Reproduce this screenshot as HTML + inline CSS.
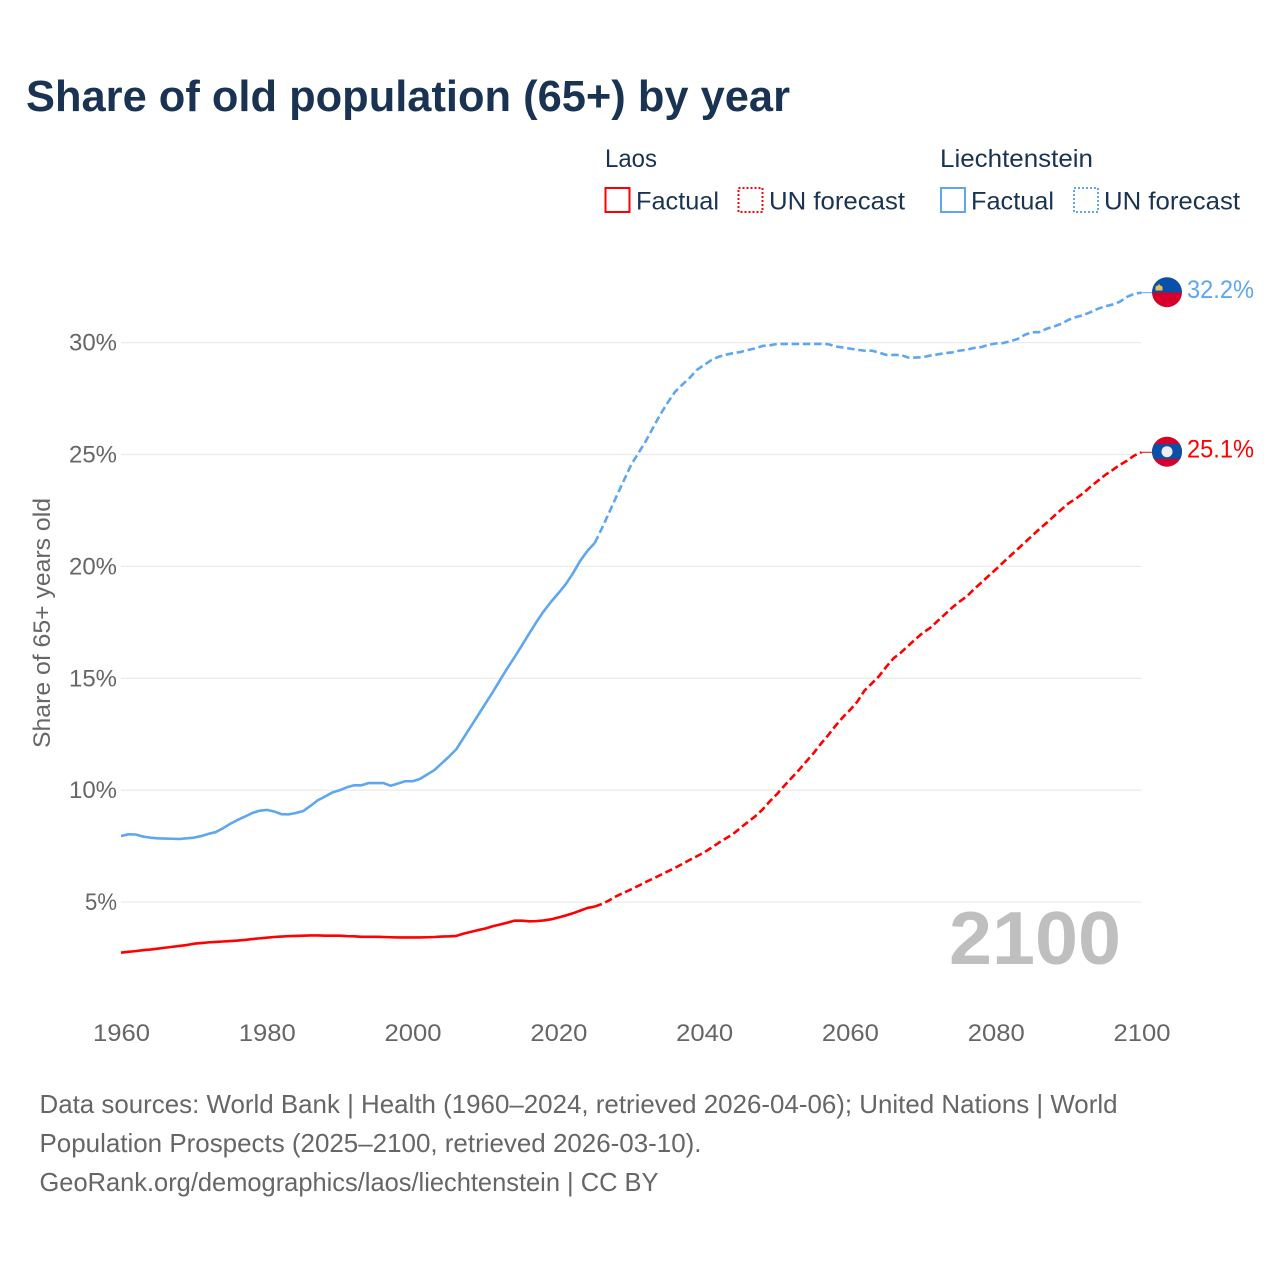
<!DOCTYPE html>
<html lang="en">
<head>
<meta charset="utf-8">
<title>Share of old population (65+) by year</title>
<style>
html,body{margin:0;padding:0;background:#fff;}
svg{display:block;}
text{font-family:"Liberation Sans",sans-serif;}
</style>
</head>
<body>
<svg id="chart" xmlns="http://www.w3.org/2000/svg" width="1280" height="1280" viewBox="0 0 1280 1280">
  <rect x="0" y="0" width="1280" height="1280" fill="#ffffff"/>
  <text x="26" y="111" font-size="44" font-weight="700" fill="#1a3352" textLength="764" lengthAdjust="spacingAndGlyphs">Share of old population (65+) by year</text>

  <g font-size="25" fill="#1a3352">
    <text x="605" y="167" textLength="52" lengthAdjust="spacingAndGlyphs">Laos</text>
    <text x="940" y="167" textLength="153" lengthAdjust="spacingAndGlyphs">Liechtenstein</text>
    <rect x="605.5" y="188" width="24" height="24" fill="none" stroke="#ff0000" stroke-width="2"/>
    <text x="636" y="209.5" textLength="83" lengthAdjust="spacingAndGlyphs">Factual</text>
    <rect x="738.5" y="188" width="24" height="24" fill="none" stroke="#ff0000" stroke-width="2" stroke-dasharray="2 2"/>
    <text x="769" y="209.5" textLength="136" lengthAdjust="spacingAndGlyphs">UN forecast</text>
    <rect x="941" y="188" width="24" height="24" fill="none" stroke="#5ea7ee" stroke-width="2"/>
    <text x="971" y="209.5" textLength="83" lengthAdjust="spacingAndGlyphs">Factual</text>
    <rect x="1074" y="188" width="24" height="24" fill="none" stroke="#5ea7ee" stroke-width="2" stroke-dasharray="2 2"/>
    <text x="1104" y="209.5" textLength="136" lengthAdjust="spacingAndGlyphs">UN forecast</text>
  </g>

  <text transform="translate(50 623) rotate(-90)" text-anchor="middle" font-size="24" fill="#666666" textLength="250" lengthAdjust="spacingAndGlyphs">Share of 65+ years old</text>

  <g id="grid"></g>
  <g id="yticks"></g>
  <g id="xticks"></g>

  <text x="949" y="964" font-size="75" font-weight="700" fill="#bfbfbf" textLength="172" lengthAdjust="spacingAndGlyphs">2100</text>

  <g id="series"></g>

  <defs>
    <clipPath id="clip-li"><circle cx="1167" cy="292.2" r="15"/></clipPath>
    <clipPath id="clip-la"><circle cx="1167" cy="451.7" r="15"/></clipPath>
  </defs>
  <g clip-path="url(#clip-li)">
    <rect x="1150" y="275" width="34" height="17.5" fill="#0a50a8"/>
    <rect x="1150" y="292.5" width="34" height="17" fill="#d6002a"/>
    <path d="M1155.5 290.5 V287 Q1156 285.5 1158 285.5 L1159 283.5 L1160 285.5 Q1162 285.5 1162.5 287 V290.5 Z" fill="#e8c24a"/>
  </g>
  <g clip-path="url(#clip-la)">
    <rect x="1150" y="434" width="34" height="36" fill="#d6002a"/>
    <rect x="1150" y="444" width="34" height="15" fill="#0a50a8"/>
    <circle cx="1167" cy="451.7" r="5.5" fill="#eeeeee"/>
  </g>
  <text x="1187" y="298" font-size="25" fill="#5ea7ee" textLength="67" lengthAdjust="spacingAndGlyphs">32.2%</text>
  <text x="1187" y="457.5" font-size="25" fill="#ff0000" textLength="67" lengthAdjust="spacingAndGlyphs">25.1%</text>

  <g font-size="26" fill="#666666">
    <text x="39.5" y="1113" textLength="1078" lengthAdjust="spacingAndGlyphs">Data sources: World Bank | Health (1960–2024, retrieved 2026-04-06); United Nations | World</text>
    <text x="39.5" y="1152" textLength="662" lengthAdjust="spacingAndGlyphs">Population Prospects (2025–2100, retrieved 2026-03-10).</text>
    <text x="39.5" y="1191" textLength="619" lengthAdjust="spacingAndGlyphs">GeoRank.org/demographics/laos/liechtenstein | CC BY</text>
  </g>
</svg>
<script>
const xTickYears = [1960, 1980, 2000, 2020, 2040, 2060, 2080, 2100];
const yTickValues = [5, 10, 15, 20, 25, 30];
const factualStartYear = 1960;
const forecastStartYear = 2025;

const laosFactual = [
  2.74,2.78,2.81,2.85,2.88,2.92,2.96,3.0,3.04,3.08,
  3.14,3.17,3.2,3.22,3.24,3.26,3.28,3.31,3.35,3.38,
  3.41,3.44,3.46,3.48,3.49,3.5,3.51,3.51,3.5,3.5,
  3.5,3.48,3.47,3.45,3.45,3.45,3.44,3.43,3.42,3.42,
  3.42,3.42,3.43,3.44,3.46,3.47,3.49,3.59,3.67,3.75,
  3.82,3.92,4.0,4.08,4.17,4.17,4.14,4.15,4.18,4.23,
  4.31,4.4,4.5,4.62,4.74,4.8
];
const laosForecast = [
  4.8,4.92,5.08,5.27,5.42,
  5.57,5.73,5.9,6.05,6.21,6.37,6.53,6.7,6.88,7.05,
  7.22,7.43,7.65,7.85,8.05,8.32,8.58,8.83,9.13,9.5,
  9.83,10.2,10.55,10.9,11.28,11.65,12.07,12.45,12.87,13.25,
  13.58,13.95,14.45,14.77,15.1,15.52,15.9,16.15,16.45,16.75,
  17.03,17.25,17.55,17.85,18.15,18.42,18.65,18.97,19.27,19.57,
  19.86,20.17,20.47,20.77,21.07,21.37,21.67,21.95,22.25,22.54,
  22.82,23.03,23.27,23.56,23.82,24.08,24.3,24.53,24.72,24.95,
  25.1
];
const liechtensteinFactual = [
  7.95,8.03,8.02,7.93,7.88,7.85,7.84,7.83,7.82,7.85,
  7.88,7.95,8.05,8.13,8.3,8.5,8.67,8.82,8.98,9.08,
  9.12,9.05,8.93,8.92,8.98,9.07,9.3,9.55,9.72,9.9,
  10.0,10.13,10.22,10.22,10.32,10.32,10.32,10.2,10.3,10.4,
  10.4,10.5,10.7,10.9,11.2,11.5,11.83,12.34,12.85,13.36,
  13.87,14.38,14.92,15.45,15.95,16.47,17.0,17.52,18.0,18.42,
  18.8,19.2,19.69,20.25,20.7,21.05
];
const liechtensteinForecast = [
  21.05,21.72,22.43,23.15,23.85,
  24.55,25.07,25.6,26.2,26.8,27.32,27.8,28.12,28.42,28.78,
  29.0,29.22,29.37,29.46,29.53,29.58,29.67,29.74,29.85,29.88,
  29.94,29.94,29.94,29.94,29.94,29.94,29.94,29.93,29.83,29.78,
  29.73,29.68,29.64,29.64,29.55,29.45,29.45,29.45,29.33,29.33,
  29.35,29.42,29.47,29.53,29.56,29.64,29.68,29.76,29.8,29.9,
  29.96,29.98,30.06,30.16,30.35,30.46,30.47,30.62,30.72,30.84,
  31.02,31.14,31.23,31.36,31.51,31.62,31.7,31.82,32.04,32.18,
  32.23
];

const SVG_NS = 'http://www.w3.org/2000/svg';
function xScale(year) { return 121 + (year - 1960) * (1020.5 / 140); }
function yScale(value) { return 1014 - value * 22.38; }

const grid = document.getElementById('grid');
const yticks = document.getElementById('yticks');
const xticks = document.getElementById('xticks');
const series = document.getElementById('series');

yTickValues.forEach(function (v) {
  const line = document.createElementNS(SVG_NS, 'line');
  
  
  line.setAttribute('x1', 121);
  line.setAttribute('x2', 1141.5);
  line.setAttribute('y1', yScale(v));
  line.setAttribute('y2', yScale(v));
  line.setAttribute('stroke', '#ebebeb');
  line.setAttribute('stroke-width', '1.3');
  grid.appendChild(line);

  const label = document.createElementNS(SVG_NS, 'text');
  
  
  const str = v + '%';
  label.textContent = str;
  label.setAttribute('x', 117 - 16 * str.length);
  label.setAttribute('y', yScale(v) + 8);
  label.setAttribute('font-size', '24');
  label.setAttribute('fill', '#666666');
  label.setAttribute('textLength', 16 * str.length);
  label.setAttribute('lengthAdjust', 'spacingAndGlyphs');
  yticks.appendChild(label);
});

xTickYears.forEach(function (year) {
  const label = document.createElementNS(SVG_NS, 'text');
  
  
  label.textContent = String(year);
  label.setAttribute('x', xScale(year) - 28);
  label.setAttribute('y', 1041);
  label.setAttribute('font-size', '24');
  label.setAttribute('fill', '#666666');
  label.setAttribute('textLength', 57);
  label.setAttribute('lengthAdjust', 'spacingAndGlyphs');
  xticks.appendChild(label);
});

function pathFrom(values, startYear) {
  return values.map(function (v, i) {
    return (i ? 'L' : 'M') + xScale(startYear + i).toFixed(2) + ' ' + yScale(v).toFixed(2);
  }).join(' ');
}

function drawLine(values, startYear, color, dashed, name) {
  const p = document.createElementNS(SVG_NS, 'path');
  
  
  p.setAttribute('d', pathFrom(values, startYear));
  p.setAttribute('fill', 'none');
  p.setAttribute('stroke', color);
  p.setAttribute('stroke-width', '2.6');
  p.setAttribute('stroke-linejoin', 'round');
  if (dashed) { p.setAttribute('stroke-dasharray', '7.5 3.7'); }
  series.appendChild(p);
}

function drawConnector(values, color, name) {
  const last = values[values.length - 1];
  const c = document.createElementNS(SVG_NS, 'line');
  
  
  c.setAttribute('x1', xScale(2100));
  c.setAttribute('x2', 1152);
  c.setAttribute('y1', yScale(last));
  c.setAttribute('y2', yScale(last));
  c.setAttribute('stroke', color);
  c.setAttribute('stroke-width', '1');
  series.appendChild(c);
}

drawLine(liechtensteinFactual, factualStartYear, '#5ea7ee', false, 'line-liechtenstein-factual');
drawLine(liechtensteinForecast, forecastStartYear, '#5ea7ee', true, 'line-liechtenstein-forecast');
drawLine(laosFactual, factualStartYear, '#ff0000', false, 'line-laos-factual');
drawLine(laosForecast, forecastStartYear, '#ff0000', true, 'line-laos-forecast');
drawConnector(liechtensteinForecast, '#5ea7ee', 'connector-liechtenstein');
drawConnector(laosForecast, '#ff0000', 'connector-laos');
</script>
</body>
</html>
